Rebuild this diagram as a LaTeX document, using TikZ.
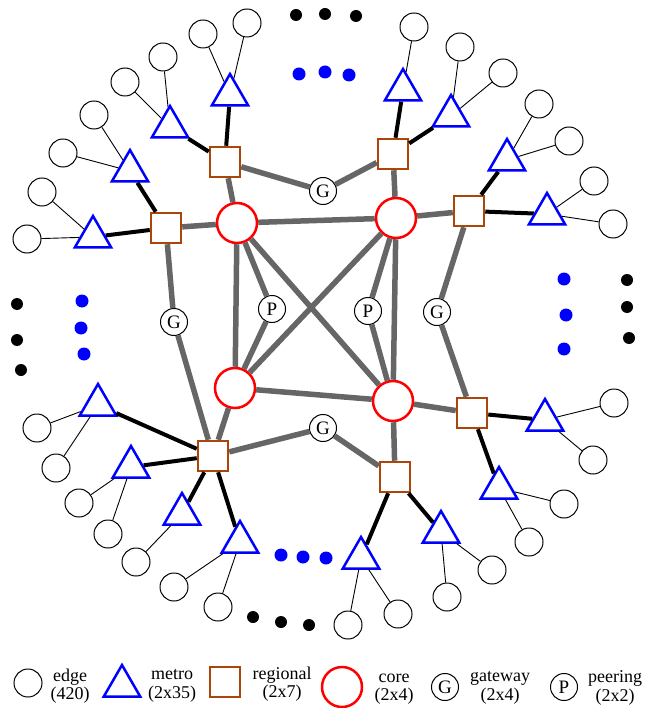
\documentclass[tikz,border=0pt]{standalone}
\usepackage{fontspec}
\setmainfont{Liberation Serif}
\usetikzlibrary{shapes.geometric}
\definecolor{linkgray}{RGB}{102,102,102}
\definecolor{regbrown}{RGB}{170,70,10}
\tikzset{edgenode/.style={circle, draw, line width=1pt, fill=white, minimum size=28pt, inner sep=0pt},
  metro/.style={regular polygon, regular polygon sides=3, draw=blue, line width=2.5pt, fill=white, minimum size=42pt, inner sep=0pt},
  regional/.style={rectangle, draw=regbrown, line width=2.5pt, fill=white, minimum size=30pt, inner sep=0pt},
  core/.style={circle, draw=red, line width=2.5pt, fill=white, minimum size=40pt, inner sep=0pt},
  gw/.style={circle, draw, line width=1pt, fill=white, minimum size=27pt, inner sep=0pt, font=\fontsize{19}{19}\selectfont},
  corelink/.style={draw=linkgray, line width=5.5pt},
  reglink/.style={draw=black, line width=4pt},
  edgelink/.style={draw=black, line width=0.9pt},
  bdot/.style={circle, fill=black, minimum size=12pt, inner sep=0pt},
  udot/.style={circle, fill=blue, minimum size=13pt, inner sep=0pt},
  legtext/.style={align=center, inner sep=0.5pt, font=\fontsize{18}{18.5}\selectfont}}

\begin{document}
\begin{tikzpicture}[x=1pt, y=-1pt]
    \useasboundingbox (0,0) rectangle (647,708);
    % core
    \node[core] (C1) at (237,223) {};
    \node[core] (C2) at (396,218) {};
    \node[core] (C3) at (235,388) {};
    \node[core] (C4) at (393,401) {};
    % regional
    \node[regional] (R1) at (225,162) {};
    \node[regional] (R2) at (166,228) {};
    \node[regional] (R3) at (393,154) {};
    \node[regional] (R4) at (469,211) {};
    \node[regional] (R5) at (213,456) {};
    \node[regional] (R6) at (472,413) {};
    \node[regional] (R7) at (395,477) {};
    % gateway and peering
    \node[gw] (G1) at (323,191) {G};
    \node[gw] (G2) at (174,322) {G};
    \node[gw] (G3) at (437,312) {G};
    \node[gw] (G4) at (323,428) {G};
    \node[gw] (P1) at (272,309) {P};
    \node[gw] (P2) at (368,311) {P};
    % metro
    \node[metro] (M1) at (230,95) {};
    \node[metro] (M2) at (170,127) {};
    \node[metro] (M3) at (130,171) {};
    \node[metro] (M4) at (93,237) {};
    \node[metro] (M5) at (403,90) {};
    \node[metro] (M6) at (451,116) {};
    \node[metro] (M7) at (507,160) {};
    \node[metro] (M8) at (547,214) {};
    \node[metro] (M9) at (98,405) {};
    \node[metro] (M10) at (131,467) {};
    \node[metro] (M11) at (182,514) {};
    \node[metro] (M12) at (240,542) {};
    \node[metro] (M13) at (545,420) {};
    \node[metro] (M14) at (499,488) {};
    \node[metro] (M15) at (441,532) {};
    \node[metro] (M16) at (361,558) {};
    % edge
    \node[edgenode] (E1a) at (247,23) {};
    \node[edgenode] (E1b) at (203,34) {};
    \node[edgenode] (E2a) at (163,57) {};
    \node[edgenode] (E2b) at (125,82) {};
    \node[edgenode] (E3a) at (94,115) {};
    \node[edgenode] (E3b) at (63,153) {};
    \node[edgenode] (E4a) at (42,192) {};
    \node[edgenode] (E4b) at (27,239) {};
    \node[edgenode] (E5a) at (414,27) {};
    \node[edgenode] (E6a) at (460,47) {};
    \node[edgenode] (E6b) at (503,73) {};
    \node[edgenode] (E7a) at (539,104) {};
    \node[edgenode] (E7b) at (569,141) {};
    \node[edgenode] (E8a) at (594,181) {};
    \node[edgenode] (E8b) at (613,224) {};
    \node[edgenode] (E9a) at (37,428) {};
    \node[edgenode] (E9b) at (56,468) {};
    \node[edgenode] (E10a) at (79,503) {};
    \node[edgenode] (E10b) at (108,534) {};
    \node[edgenode] (E11a) at (136,562) {};
    \node[edgenode] (E12a) at (174,587) {};
    \node[edgenode] (E12b) at (218,607) {};
    \node[edgenode] (E13a) at (614,403) {};
    \node[edgenode] (E13b) at (593,460) {};
    \node[edgenode] (E14a) at (564,504) {};
    \node[edgenode] (E14b) at (529,542) {};
    \node[edgenode] (E15a) at (492,570) {};
    \node[edgenode] (E15b) at (447,597) {};
    \node[edgenode] (E16a) at (398,614) {};
    \node[edgenode] (E16b) at (348,625) {};
    % dots
    \node[bdot] (D1) at (296,15) {};
    \node[bdot] (D2) at (325,14) {};
    \node[bdot] (D3) at (356,16) {};
    \node[udot] (D4) at (299,74) {};
    \node[udot] (D5) at (325,72) {};
    \node[udot] (D6) at (349,75) {};
    \node[bdot] (D7) at (17,304) {};
    \node[bdot] (D8) at (17,340) {};
    \node[bdot] (D9) at (21,370) {};
    \node[udot] (D10) at (82,301) {};
    \node[udot] (D11) at (81,328) {};
    \node[udot] (D12) at (84,354) {};
    \node[udot] (D13) at (564,279) {};
    \node[udot] (D14) at (566,315) {};
    \node[udot] (D15) at (564,349) {};
    \node[bdot] (D16) at (627,280) {};
    \node[bdot] (D17) at (627,307) {};
    \node[bdot] (D18) at (629,338) {};
    \node[udot] (D19) at (281,555) {};
    \node[udot] (D20) at (303,557) {};
    \node[udot] (D21) at (326,558) {};
    \node[bdot] (D22) at (253,617) {};
    \node[bdot] (D23) at (281,622) {};
    \node[bdot] (D24) at (309,625) {};
    % gray links
    \draw[corelink] (C1) -- (C2);
    \draw[corelink] (C1) -- (C3);
    \draw[corelink] (C1) -- (C4);
    \draw[corelink] (C2) -- (C3);
    \draw[corelink] (C2) -- (C4);
    \draw[corelink] (C3) -- (C4);
    \draw[corelink] (C1) -- (P1);
    \draw[corelink] (P1) -- (C3);
    \draw[corelink] (C2) -- (P2);
    \draw[corelink] (P2) -- (C4);
    \draw[corelink] (C1) -- (R1);
    \draw[corelink] (C1) -- (R2);
    \draw[corelink] (C2) -- (R3);
    \draw[corelink] (C2) -- (R4);
    \draw[corelink] (C3) -- (R5);
    \draw[corelink] (C4) -- (R6);
    \draw[corelink] (C4) -- (R7);
    \draw[corelink] (R1) -- (G1);
    \draw[corelink] (G1) -- (R3);
    \draw[corelink] (R2) -- (G2);
    \draw[corelink] (G2) -- (R5);
    \draw[corelink] (R4) -- (G3);
    \draw[corelink] (G3) -- (R6);
    \draw[corelink] (R5) -- (G4);
    \draw[corelink] (G4) -- (R7);
    % black links
    \draw[reglink] (R1) -- (M1);
    \draw[reglink] (R1) -- (M2);
    \draw[reglink] (R2) -- (M3);
    \draw[reglink] (R2) -- (M4);
    \draw[reglink] (R3) -- (M5);
    \draw[reglink] (R3) -- (M6);
    \draw[reglink] (R4) -- (M7);
    \draw[reglink] (R4) -- (M8);
    \draw[reglink] (R5) -- (M9);
    \draw[reglink] (R5) -- (M10);
    \draw[reglink] (R5) -- (M11);
    \draw[reglink] (R5) -- (M12);
    \draw[reglink] (R6) -- (M13);
    \draw[reglink] (R6) -- (M14);
    \draw[reglink] (R7) -- (M15);
    \draw[reglink] (R7) -- (M16);
    % thin links
    \draw[edgelink] (M1) -- (E1a);
    \draw[edgelink] (M1) -- (E1b);
    \draw[edgelink] (M2) -- (E2a);
    \draw[edgelink] (M2) -- (E2b);
    \draw[edgelink] (M3) -- (E3a);
    \draw[edgelink] (M3) -- (E3b);
    \draw[edgelink] (M4) -- (E4a);
    \draw[edgelink] (M4) -- (E4b);
    \draw[edgelink] (M5) -- (E5a);
    \draw[edgelink] (M6) -- (E6a);
    \draw[edgelink] (M6) -- (E6b);
    \draw[edgelink] (M7) -- (E7a);
    \draw[edgelink] (M7) -- (E7b);
    \draw[edgelink] (M8) -- (E8a);
    \draw[edgelink] (M8) -- (E8b);
    \draw[edgelink] (M9) -- (E9a);
    \draw[edgelink] (M9) -- (E9b);
    \draw[edgelink] (M10) -- (E10a);
    \draw[edgelink] (M10) -- (E10b);
    \draw[edgelink] (M11) -- (E11a);
    \draw[edgelink] (M12) -- (E12a);
    \draw[edgelink] (M12) -- (E12b);
    \draw[edgelink] (M13) -- (E13a);
    \draw[edgelink] (M13) -- (E13b);
    \draw[edgelink] (M14) -- (E14a);
    \draw[edgelink] (M14) -- (E14b);
    \draw[edgelink] (M15) -- (E15a);
    \draw[edgelink] (M15) -- (E15b);
    \draw[edgelink] (M16) -- (E16a);
    \draw[edgelink] (M16) -- (E16b);
    % legend
    \node[edgenode] (L1) at (28,683) {};
    \node[legtext] (T1) at (70,686) {edge\\(420)};
    \node[metro] (L2) at (122,686) {};
    \node[legtext] (T2) at (172,686) {metro\\(2x35)};
    \node[regional] (L3) at (225,682) {};
    \node[legtext] (T3) at (282,684) {regional\\(2x7)};
    \node[core] (L4) at (342,687) {};
    \node[legtext] (T4) at (394,689) {core\\(2x4)};
    \node[gw] (L5) at (445,687) {G};
    \node[legtext] (T5) at (500,688) {gateway\\(2x4)};
    \node[gw] (L6) at (564,687) {P};
    \node[legtext] (T6) at (615,688) {peering\\(2x2)};
\end{tikzpicture}
\end{document}
